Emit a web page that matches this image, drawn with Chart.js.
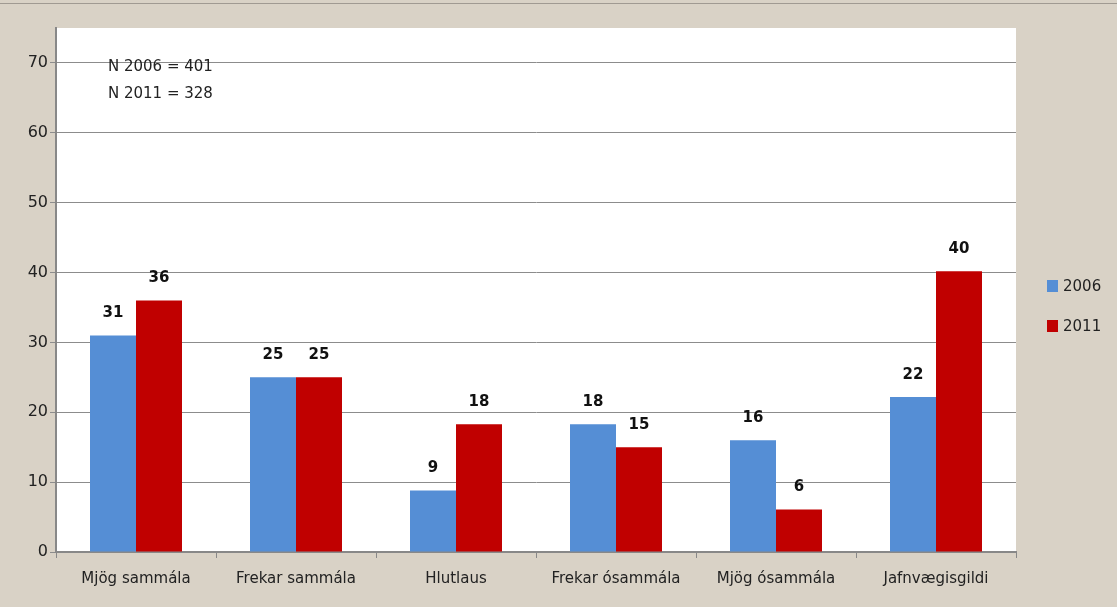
<!DOCTYPE html>
<html>
<head>
<meta charset="utf-8">
<script src="https://cdn.jsdelivr.net/npm/chart.js@4"></script>
<style>
  html, body { margin: 0; padding: 0; background: #d9d2c6; }
  #wrap { width: 1117px; height: 607px; position: relative; }
</style>
</head>
<body>
<div id="wrap"><canvas id="grafico"></canvas></div>
<script>
// Datos
const categorias = ['Mjög sammála', 'Frekar sammála', 'Hlutlaus', 'Frekar ósammála', 'Mjög ósammála', 'Jafnvægisgildi'];
const valores2006 = [31, 25, 8.8, 18.3, 16, 22.2];
const valores2011 = [36, 25, 18.3, 15, 6.1, 40.2];
const ticksY = [0, 10, 20, 30, 40, 50, 60, 70];
const notas = ['N 2006 = 401', 'N 2011 = 328'];

const azul = '#558ed5';
const rojo = '#c00000';
const fuente = '"DejaVu Sans", sans-serif';

// Fondo beige y área del gráfico en blanco
const fondo = {
  id: 'fondo',
  beforeDraw(chart) {
    const { ctx, chartArea: a } = chart;
    ctx.save();
    ctx.fillStyle = '#d9d2c6';
    ctx.fillRect(0, 0, chart.width, chart.height);
    ctx.fillStyle = '#a09a92';
    ctx.fillRect(0, 3, chart.width, 1);
    ctx.fillStyle = '#ffffff';
    ctx.fillRect(a.left, a.top, a.right - a.left, a.bottom - a.top);
    ctx.restore();
  }
};

// Etiquetas encima de las barras, notas N y leyenda
const etiquetas = {
  id: 'etiquetas',
  afterDatasetsDraw(chart) {
    const { ctx, chartArea: a } = chart;
    ctx.save();
    ctx.font = 'bold 15px ' + fuente;
    ctx.fillStyle = '#111';
    ctx.textAlign = 'center';
    ctx.textBaseline = 'middle';
    chart.data.datasets.forEach((ds, i) => {
      chart.getDatasetMeta(i).data.forEach((bar, j) => {
        ctx.fillText(Math.round(ds.data[j]), bar.x, bar.y - 22);
      });
    });

    ctx.font = '15px ' + fuente;
    ctx.fillStyle = '#222';
    ctx.textAlign = 'left';
    notas.forEach((t, i) => ctx.fillText(t, a.left + 52, 67 + i * 27));

    // leyenda
    chart.data.datasets.forEach((ds, i) => {
      const y = 286 + i * 40;
      ctx.fillStyle = ds.backgroundColor;
      ctx.fillRect(1047, y - 6, 11, 12);
      ctx.fillStyle = '#222';
      ctx.fillText(ds.label, 1063, y + 1);
    });
    ctx.restore();
  }
};

new Chart(document.getElementById('grafico'), {
  type: 'bar',
  data: {
    labels: categorias,
    datasets: [
      { label: '2006', data: valores2006, backgroundColor: azul },
      { label: '2011', data: valores2011, backgroundColor: rojo }
    ]
  },
  options: {
    responsive: true,
    maintainAspectRatio: false,
    animation: false,
    categoryPercentage: 0.575,
    barPercentage: 1,
    layout: { padding: { top: 28, right: 101, left: 0, bottom: 0 } },
    plugins: {
      legend: { display: false },
      tooltip: { enabled: false }
    },
    scales: {
      x: {
        grid: { offset: true, drawOnChartArea: false, drawTicks: true, tickLength: 6, color: '#888' },
        border: { color: '#888', width: 2 },
        ticks: { color: '#222', font: { family: fuente, size: 15 }, padding: 12 },
        afterFit(scale) { scale.height = 55; }
      },
      y: {
        min: 0,
        max: 75,
        afterBuildTicks(scale) { scale.ticks = ticksY.map(v => ({ value: v })); },
        grid: { color: '#8c8c8c', tickLength: 6 },
        border: { color: '#888', width: 2 },
        ticks: { color: '#222', font: { family: fuente, size: 16 }, padding: 2 },
        afterFit(scale) { scale.width = 56; }
      }
    }
  },
  plugins: [fondo, etiquetas]
});
</script>
</body>
</html>
